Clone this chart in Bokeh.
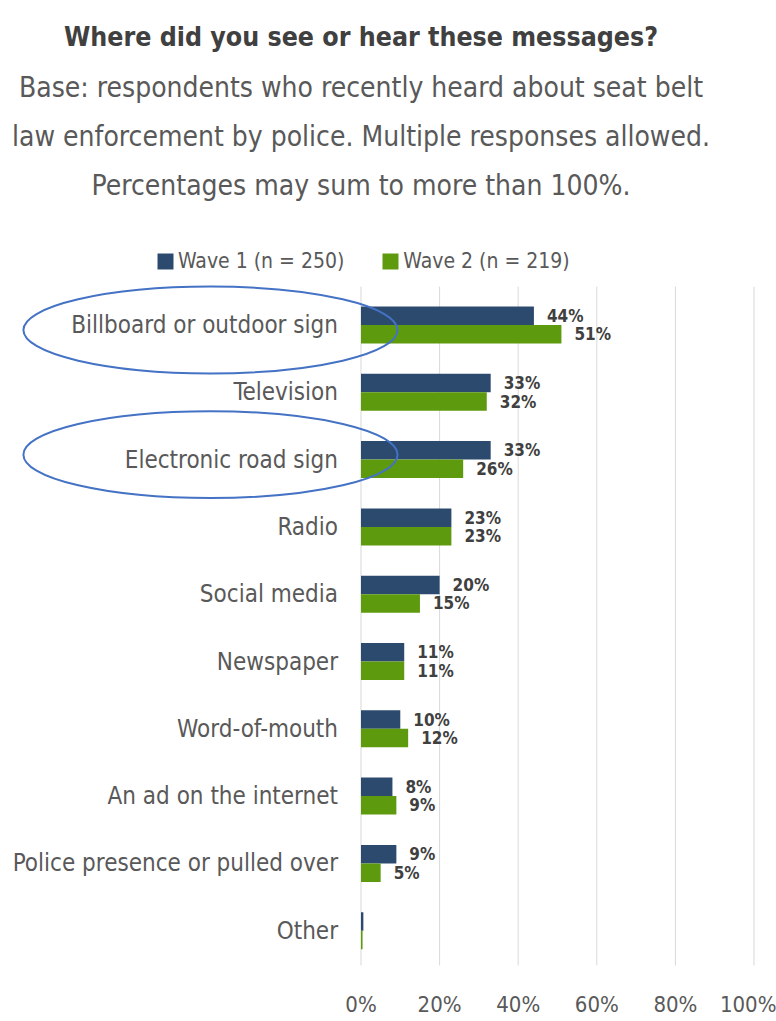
from bokeh.plotting import figure
from bokeh.models import (Range1d, FixedTicker, PrintfTickFormatter, ColumnDataSource,
                          Legend, LegendItem)
from bokeh.core.properties import value
from bokeh.embed import file_html
from bokeh.resources import INLINE

# ---------------- data ----------------
categories = ["Billboard or outdoor sign", "Television", "Electronic road sign", "Radio",
              "Social media", "Newspaper", "Word-of-mouth", "An ad on the internet",
              "Police presence or pulled over", "Other"]
wave1 = [44, 33, 33, 23, 20, 11, 10, 8, 9, 0.6]
wave2 = [51, 32, 26, 23, 15, 11, 12, 9, 5, 0.4]
wave1_labels = ["44%", "33%", "33%", "23%", "20%", "11%", "10%", "8%", "9%", ""]
wave2_labels = ["51%", "32%", "26%", "23%", "15%", "11%", "12%", "9%", "5%", ""]
series_names = ["Wave 1 (n = 250)", "Wave 2 (n = 219)"]
x_ticks = [0, 20, 40, 60, 80, 100]
highlighted = ["Billboard or outdoor sign", "Electronic road sign"]
title_text = "Where did you see or hear these messages?"
subtitle_lines = ["Base: respondents who recently heard about seat belt",
                  "law enforcement by police. Multiple responses allowed.",
                  "Percentages may sum to more than 100%."]

# ---------------- style ----------------
FONT = "'DejaVu Sans Condensed', 'Liberation Sans', sans-serif"
C1 = "#2C4A6E"
C2 = "#5E9A0E"
GRID = "#D9D9D9"
TXT = "#595959"
DARK = "#404040"
BAR_H = 0.275
DODGE = 0.1375

n = len(categories)
idx = list(range(n))

p = figure(frame_width=768, frame_height=965,
           x_range=Range1d(-91.73, 103.69), y_range=Range1d(9.517, -4.822),
           output_backend="svg", toolbar_location=None, y_axis_location=None,
           min_border_left=0, min_border_right=8, min_border_top=0, min_border_bottom=56)
p.outline_line_color = None
p.xgrid.visible = False
p.ygrid.visible = False
p.background_fill_color = "white"

# x axis
ax = p.xaxis[0]
ax.ticker = FixedTicker(ticks=x_ticks)
ax.formatter = PrintfTickFormatter(format="%d%%")
ax.axis_line_color = None
ax.major_tick_line_color = None
ax.minor_tick_line_color = None
ax.major_label_standoff = 20
ax.major_label_text_font = FONT
ax.major_label_text_font_size = "22px"
ax.major_label_text_color = TXT

# gridlines (only below legend area)
p.segment(x0=x_ticks, x1=x_ticks, y0=[-0.57] * len(x_ticks), y1=[9.6] * len(x_ticks),
          line_color=GRID, line_width=1)

src = ColumnDataSource(dict(
    y1=[i - DODGE for i in idx], y2=[i + DODGE for i in idx], ym=idx,
    w1=wave1, w2=wave2, l1=wave1_labels, l2=wave2_labels, cat=categories,
    zero=[0] * n))

r1 = p.hbar(y="y1", left=0, right="w1", height=BAR_H, source=src,
            fill_color=C1, line_color=None)
r2 = p.hbar(y="y2", left=0, right="w2", height=BAR_H, source=src,
            fill_color=C2, line_color=None)

# value labels
for xcol, ycol, lcol in (("w1", "y1", "l1"), ("w2", "y2", "l2")):
    p.text(x=xcol, y=ycol, text=lcol, source=src, x_offset=13, text_align="left",
           text_baseline="middle", text_font=value(FONT), text_font_style="bold",
           text_font_size="17px", text_color=DARK)

# category labels
p.text(x="zero", y="ym", text="cat", source=src, x_offset=-23, text_align="right",
       text_baseline="middle", text_font=value(FONT), text_font_size="24px",
       text_color=TXT)

# highlight ellipses
hy = [categories.index(c) for c in highlighted]
hy = [hy[0] + 0.074, hy[1] - 0.074]
p.ellipse(x=[-38.3] * len(hy), y=hy, width=95.2, height=1.29,
          fill_color=None, line_color="#4472C4", line_width=2)

# titles
p.text(x=[0], y=[-4.287], text=[title_text], text_align="center",
       text_baseline="alphabetic", text_font=value(FONT), text_font_style="bold",
       text_font_size="26.5px", text_color=DARK)
sub_y = [-3.529, -2.801, -2.073]
p.text(x=[0] * 3, y=sub_y, text=subtitle_lines, text_align="center",
       text_baseline="alphabetic", text_font=value(FONT),
       text_font_size="28px", text_color=TXT)

# legend
legend = Legend(items=[LegendItem(label=series_names[0], renderers=[r1]),
                       LegendItem(label=series_names[1], renderers=[r2])],
                orientation="horizontal", location=(155, 692),
                glyph_width=20, glyph_height=20, label_standoff=3, spacing=36,
                padding=0, margin=0, border_line_color=None,
                background_fill_alpha=0,
                label_text_font=FONT, label_text_font_size="21px",
                label_text_color=TXT)
p.add_layout(legend)

open("out.html", "w").write(file_html(p, INLINE))
